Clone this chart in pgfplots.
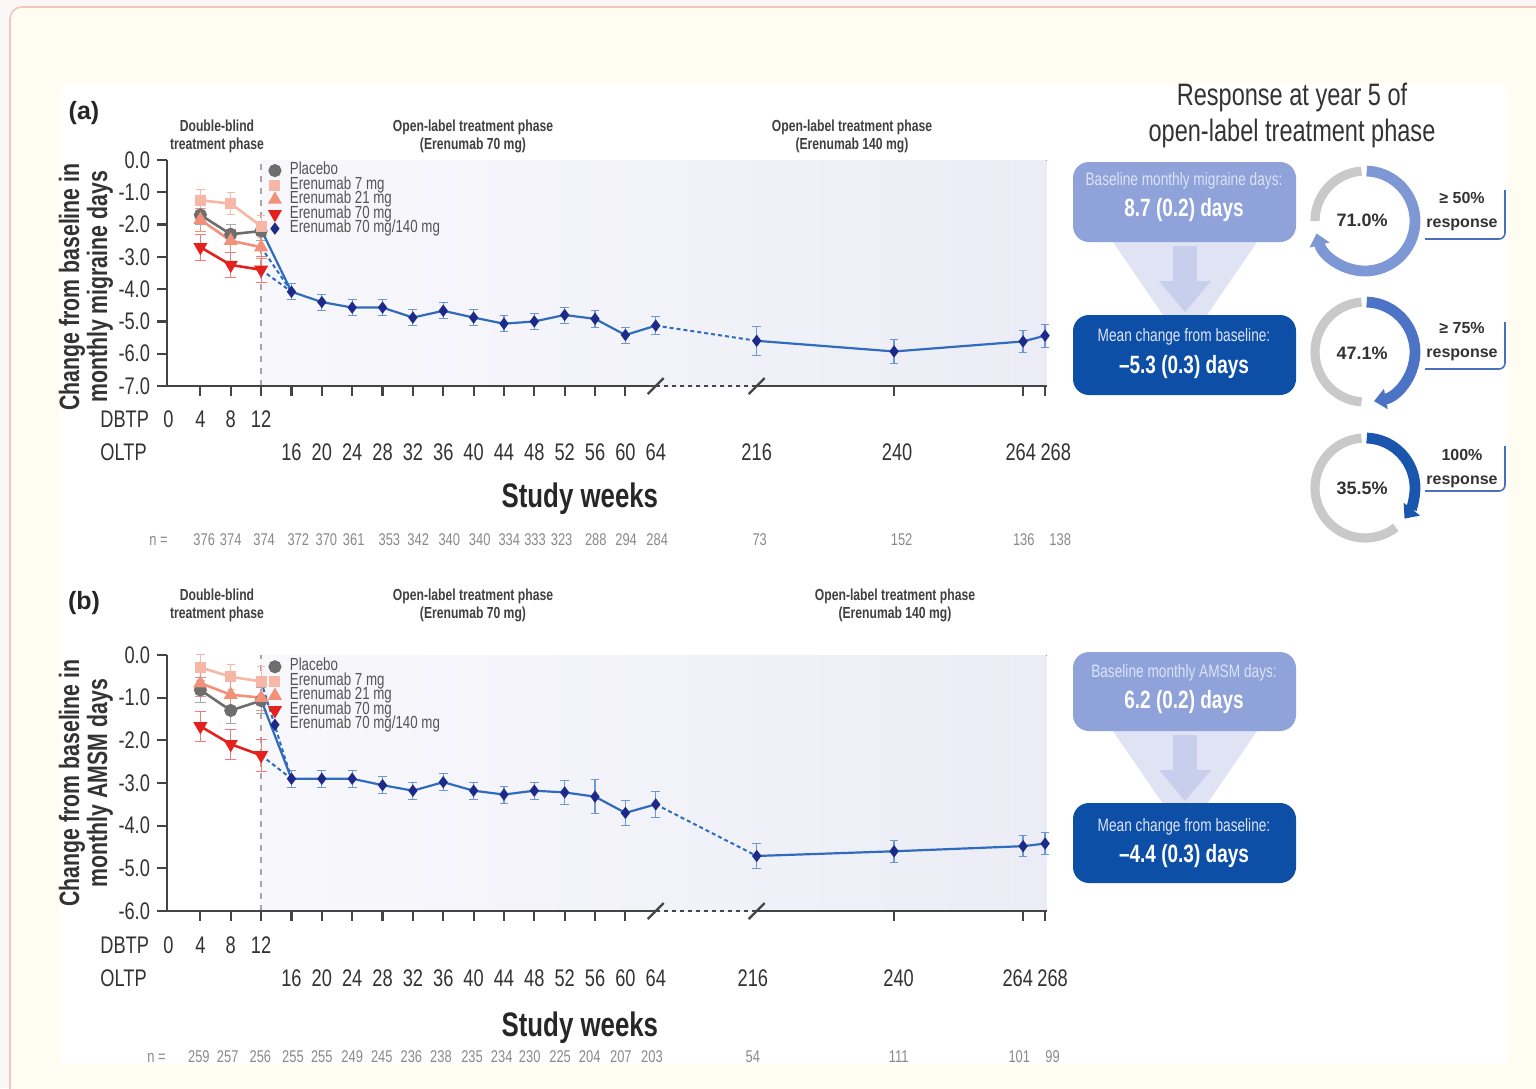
\documentclass[border=0pt]{standalone}
\usepackage{pgfplots}
\pgfplotsset{compat=1.18}
\usepackage{fontspec}
\setmainfont{Liberation Sans}[FakeStretch=0.76]
\newfontfamily\wf{Liberation Sans}
\usetikzlibrary{arrows.meta}

\definecolor{cPla}{HTML}{6E6E6E}
\definecolor{c7}{HTML}{F6B7A6}
\definecolor{c21}{HTML}{F2907A}
\definecolor{c70}{HTML}{E4211C}
\definecolor{cBl}{HTML}{2F6CBD}
\definecolor{cNv}{HTML}{1E2A8A}
\definecolor{txt}{HTML}{333333}
\definecolor{axc}{HTML}{444444}
\definecolor{shL}{HTML}{F8F8FC}
\definecolor{shR}{HTML}{ECECF6}
\definecolor{boxL}{HTML}{8FA3DA}
\definecolor{boxD}{HTML}{0D4EA6}
\definecolor{fun}{HTML}{DFE3F4}
\definecolor{arr}{HTML}{C8CFEC}
\definecolor{ring}{HTML}{C9C9C9}
\definecolor{d1}{HTML}{7E98D6}
\definecolor{d2}{HTML}{4C73C6}
\definecolor{d3}{HTML}{1A56AE}
\definecolor{brk}{HTML}{4B6FBF}
\definecolor{cream}{HTML}{FFFDF2}
\definecolor{outer}{HTML}{FBF7F7}
\definecolor{bord}{HTML}{F0C8BE}
\definecolor{nclr}{HTML}{8A8A8A}
\definecolor{leg}{HTML}{555555}
\definecolor{btxt}{HTML}{DCE3F6}

\newcommand\fT{\fontsize{12}{12}\selectfont}
\newcommand\fN{\fontsize{8.5}{8.5}\selectfont}
\newcommand\fSW{\bfseries\fontsize{17}{17}\selectfont}
\newcommand\fYL{\bfseries\fontsize{14}{14}\selectfont}
\newcommand\fPH{\bfseries\fontsize{8}{9}\selectfont}
\newcommand\fLeg{\fontsize{8.75}{8.75}\selectfont}

% tick-row label: x, text, yshift, ymin
\newcommand\xl[4]{\node[anchor=base,font=\fT,text=txt,inner sep=0pt] at ([yshift=#3]axis cs:#1,#4) {#2};}
\newcommand\nl[4]{\node[anchor=base,font=\fN,text=nclr,inner sep=0pt] at ([yshift=#3]axis cs:#1,#4) {#2};}

\pgfplotsset{
  panel/.style={
    scale only axis, width=439.8pt, anchor=south west,
    xmin=-0.4, xmax=115.5, enlargelimits=false,
    axis lines=left, axis line style={-, draw=axc, line width=1.2pt},
    x axis line style={draw=none},
    clip=false, tick align=outside,
    xtick={4,8,...,60,95.4,112.4,115.3}, xticklabels={,,}, xticklabel style={opacity=0},
    major tick length=5pt,
    tick style={draw=axc, line width=1.1pt},
    yticklabel style={font=\fT, text=txt},
    legend style={draw=none, fill=none, font=\fLeg, text=leg, row sep=0pt,
      inner sep=0pt, nodes={inner sep=0pt, text height=5.6pt, text depth=1.65pt, anchor=west}},
    legend cell align=left,
    legend image code/.code={\draw[##1] plot[only marks] coordinates {(0.12cm,0cm)}; \path (0cm,0cm) (0.36cm,0cm);},
  },
  pla/.style={color=cPla, line width=1.3pt, mark=*, mark size=2.6pt, mark options={solid, fill=cPla}},
  s7/.style={color=c7, line width=1.3pt, mark=square*, mark size=2.1pt, mark options={solid, fill=c7}},
  s21/.style={color=c21, line width=1.3pt, mark=triangle*, mark size=2.8pt, mark options={solid, fill=c21}},
  s70/.style={color=c70, line width=1.3pt, mark=triangle*, mark size=2.8pt, mark options={solid, fill=c70, rotate=180}},
  sbl/.style={color=cBl, line width=1.1pt, mark=diamond*, mark size=2.2pt, mark options={solid, fill=cNv, draw=cNv}},
  eb/.style={error bars/.cd, y dir=both, y explicit, error bar style={line width=0.6pt, #1}},
}

\begin{document}
\begin{tikzpicture}
\path[use as bounding box] (0,0) rectangle (768pt,-544pt);
% ---------- background ----------
\begin{scope}[x=0.5pt,y=-0.5pt]
  \fill[outer] (0,0) rectangle (1536,1088);
  \filldraw[fill=cream, draw=bord, line width=0.8pt, rounded corners=6pt] (10,7) rectangle (1600,1140);
  \fill[white] (60,84) rectangle (1508,1064);
\end{scope}

% ================= PANEL A =================
\begin{axis}[panel, at={(83.5pt,-193pt)}, height=113pt, ymin=-7, ymax=0,
  ytick={-7,-6,...,0}, yticklabels={-7.0,-6.0,-5.0,-4.0,-3.0,-2.0,-1.0,0.0},
  legend style={at={(0.113,0.987)}, anchor=north west}]
\fill[left color=shL, right color=shR] (axis cs:12,-7) rectangle (axis cs:115.5,0);
\draw[gray!70, dashed, line width=0.7pt] (axis cs:12,-7) -- (axis cs:12,0);
\draw[axc, line width=1.2pt] (axis cs:-0.4,-7) -- (axis cs:64,-7);
\draw[axc, line width=1.2pt, dash pattern=on 2pt off 2pt] (axis cs:64,-7) -- (axis cs:77.3,-7);
\draw[axc, line width=1.2pt] (axis cs:77.3,-7) -- (axis cs:115.5,-7);
\draw[axc, line width=1.1pt] ([xshift=-4pt,yshift=-4pt]axis cs:64,-7) -- ([xshift=4pt,yshift=4pt]axis cs:64,-7);
\draw[axc, line width=1.1pt] ([xshift=-4pt,yshift=-4pt]axis cs:77.3,-7) -- ([xshift=4pt,yshift=4pt]axis cs:77.3,-7);

\addplot[pla, eb={cPla!60}] coordinates {(4,-1.7) +- (0,0.3) (8,-2.3) +- (0,0.3) (12,-2.2) +- (0,0.3)};
\addlegendentry{Placebo}
\addplot[s7, eb={c7}] coordinates {(4,-1.25) +- (0,0.35) (8,-1.35) +- (0,0.35) (12,-2.05) +- (0,0.35)};
\addlegendentry{Erenumab 7 mg}
\addplot[s21, eb={c21}] coordinates {(4,-1.85) +- (0,0.35) (8,-2.5) +- (0,0.35) (12,-2.7) +- (0,0.35)};
\addlegendentry{Erenumab 21 mg}
\addplot[s70, eb={c70!60}] coordinates {(4,-2.7) +- (0,0.4) (8,-3.25) +- (0,0.4) (12,-3.4) +- (0,0.4)};
\addlegendentry{Erenumab 70 mg}
\addplot[sbl, eb={cBl!70}] coordinates {
 (16,-4.08) +- (0,0.25) (20,-4.4) +- (0,0.25) (24,-4.57) +- (0,0.25) (28,-4.57) +- (0,0.25)
 (32,-4.88) +- (0,0.25) (36,-4.67) +- (0,0.25) (40,-4.88) +- (0,0.25) (44,-5.07) +- (0,0.25)
 (48,-5.0) +- (0,0.25) (52,-4.8) +- (0,0.25) (56,-4.92) +- (0,0.25) (60,-5.42) +- (0,0.25)
 (64,-5.13) +- (0,0.28)};
\addlegendentry{Erenumab 70 mg/140 mg}
\addplot[forget plot, color=cBl, line width=1.1pt] coordinates {(12,-2.15) (16,-4.08)};
\addplot[forget plot, color=cBl, line width=1pt, dash pattern=on 2pt off 1.5pt] coordinates {(12,-2.7) (16,-4.08)};
\addplot[forget plot, color=cBl, line width=1pt, dash pattern=on 2pt off 1.5pt] coordinates {(12,-3.4) (16,-4.08)};
\addplot[forget plot, color=cBl, line width=1pt, dash pattern=on 2pt off 1.5pt] coordinates {(64,-5.13) (77.3,-5.6)};
\addplot[forget plot, sbl, eb={cBl!70}] coordinates {
 (77.3,-5.6) +- (0,0.46) (95.4,-5.93) +- (0,0.36) (112.4,-5.62) +- (0,0.35) (115.3,-5.44) +- (0,0.35)};

\xl{-0.2}{0}{-20.5pt}{-7}\xl{4}{4}{-20.5pt}{-7}\xl{8}{8}{-20.5pt}{-7}\xl{12}{12}{-20.5pt}{-7}
\xl{16}{16}{-37pt}{-7}\xl{20}{20}{-37pt}{-7}\xl{24}{24}{-37pt}{-7}\xl{28}{28}{-37pt}{-7}
\xl{32}{32}{-37pt}{-7}\xl{36}{36}{-37pt}{-7}\xl{40}{40}{-37pt}{-7}\xl{44}{44}{-37pt}{-7}
\xl{48}{48}{-37pt}{-7}\xl{52}{52}{-37pt}{-7}\xl{56}{56}{-37pt}{-7}\xl{60}{60}{-37pt}{-7}
\xl{64}{64}{-37pt}{-7}\xl{77.3}{216}{-37pt}{-7}\xl{95.8}{240}{-37pt}{-7}
\xl{112.1}{264}{-37pt}{-7}\xl{116.7}{268}{-37pt}{-7}
\node[anchor=base, font=\fSW, text=black!85] at ([yshift=-60.5pt]axis cs:54,-7) {Study weeks};
\nl{4.5}{376}{-79.5pt}{-7}\nl{8}{374}{-79.5pt}{-7}\nl{12.4}{374}{-79.5pt}{-7}
\nl{16.9}{372}{-79.5pt}{-7}\nl{20.6}{370}{-79.5pt}{-7}\nl{24.2}{361}{-79.5pt}{-7}
\nl{28.9}{353}{-79.5pt}{-7}\nl{32.7}{342}{-79.5pt}{-7}\nl{36.8}{340}{-79.5pt}{-7}
\nl{40.8}{340}{-79.5pt}{-7}\nl{44.7}{334}{-79.5pt}{-7}\nl{48.1}{333}{-79.5pt}{-7}
\nl{51.6}{323}{-79.5pt}{-7}\nl{56.1}{288}{-79.5pt}{-7}\nl{60.1}{294}{-79.5pt}{-7}
\nl{64.2}{284}{-79.5pt}{-7}\nl{77.7}{73}{-79.5pt}{-7}\nl{96.4}{152}{-79.5pt}{-7}
\nl{112.5}{136}{-79.5pt}{-7}\nl{117.3}{138}{-79.5pt}{-7}
\end{axis}

% ================= PANEL B =================
\begin{axis}[panel, at={(83.5pt,-455.5pt)}, height=128pt, ymin=-6, ymax=0,
  ytick={-6,-5,...,0}, yticklabels={-6.0,-5.0,-4.0,-3.0,-2.0,-1.0,0.0},
  legend style={at={(0.113,0.984)}, anchor=north west}]
\fill[left color=shL, right color=shR] (axis cs:12,-6) rectangle (axis cs:115.5,0);
\draw[gray!70, dashed, line width=0.7pt] (axis cs:12,-6) -- (axis cs:12,0);
\draw[axc, line width=1.2pt] (axis cs:-0.4,-6) -- (axis cs:64,-6);
\draw[axc, line width=1.2pt, dash pattern=on 2pt off 2pt] (axis cs:64,-6) -- (axis cs:77.3,-6);
\draw[axc, line width=1.2pt] (axis cs:77.3,-6) -- (axis cs:115.5,-6);
\draw[axc, line width=1.1pt] ([xshift=-4pt,yshift=-4pt]axis cs:64,-6) -- ([xshift=4pt,yshift=4pt]axis cs:64,-6);
\draw[axc, line width=1.1pt] ([xshift=-4pt,yshift=-4pt]axis cs:77.3,-6) -- ([xshift=4pt,yshift=4pt]axis cs:77.3,-6);

\addplot[pla, eb={cPla!60}] coordinates {(4,-0.82) +- (0,0.3) (8,-1.3) +- (0,0.3) (12,-1.07) +- (0,0.3)};
\addlegendentry{Placebo}
\addplot[s7, eb={c7}] coordinates {(4,-0.29) +- (0,0.3) (8,-0.51) +- (0,0.3) (12,-0.62) +- (0,0.35)};
\addlegendentry{Erenumab 7 mg}
\addplot[s21, eb={c21}] coordinates {(4,-0.66) +- (0,0.3) (8,-0.93) +- (0,0.3) (12,-1.0) +- (0,0.3)};
\addlegendentry{Erenumab 21 mg}
\addplot[s70, eb={c70!60}] coordinates {(4,-1.67) +- (0,0.35) (8,-2.09) +- (0,0.35) (12,-2.35) +- (0,0.38)};
\addlegendentry{Erenumab 70 mg}
\addplot[sbl, eb={cBl!70}] coordinates {
 (16,-2.9) +- (0,0.2) (20,-2.9) +- (0,0.2) (24,-2.9) +- (0,0.2) (28,-3.05) +- (0,0.2)
 (32,-3.18) +- (0,0.2) (36,-2.98) +- (0,0.2) (40,-3.18) +- (0,0.2) (44,-3.27) +- (0,0.2)
 (48,-3.18) +- (0,0.2) (52,-3.22) +- (0,0.29) (56,-3.32) +- (0,0.4) (60,-3.7) +- (0,0.3)
 (64,-3.5) +- (0,0.3)};
\addlegendentry{Erenumab 70 mg/140 mg}
\addplot[forget plot, color=cBl, line width=1.1pt] coordinates {(12,-1.05) (16,-2.9)};
\addplot[forget plot, color=cBl, line width=1pt, dash pattern=on 2pt off 1.5pt] coordinates {(12,-0.62) (16,-2.9)};
\addplot[forget plot, color=cBl, line width=1pt, dash pattern=on 2pt off 1.5pt] coordinates {(12,-2.35) (16,-2.9)};
\addplot[forget plot, color=cBl, line width=1pt, dash pattern=on 2pt off 1.5pt] coordinates {(64,-3.5) (77.3,-4.71)};
\addplot[forget plot, sbl, eb={cBl!70}] coordinates {
 (77.3,-4.71) +- (0,0.29) (95.4,-4.6) +- (0,0.25) (112.4,-4.48) +- (0,0.25) (115.3,-4.42) +- (0,0.26)};

\xl{-0.2}{0}{-21pt}{-6}\xl{4}{4}{-21pt}{-6}\xl{8}{8}{-21pt}{-6}\xl{12}{12}{-21pt}{-6}
\xl{16}{16}{-37.5pt}{-6}\xl{20}{20}{-37.5pt}{-6}\xl{24}{24}{-37.5pt}{-6}\xl{28}{28}{-37.5pt}{-6}
\xl{32}{32}{-37.5pt}{-6}\xl{36}{36}{-37.5pt}{-6}\xl{40}{40}{-37.5pt}{-6}\xl{44}{44}{-37.5pt}{-6}
\xl{48}{48}{-37.5pt}{-6}\xl{52}{52}{-37.5pt}{-6}\xl{56}{56}{-37.5pt}{-6}\xl{60}{60}{-37.5pt}{-6}
\xl{64}{64}{-37.5pt}{-6}\xl{76.8}{216}{-37.5pt}{-6}\xl{96}{240}{-37.5pt}{-6}
\xl{111.7}{264}{-37.5pt}{-6}\xl{116.3}{268}{-37.5pt}{-6}
\node[anchor=base, font=\fSW, text=black!85] at ([yshift=-62.5pt]axis cs:54,-6) {Study weeks};
\nl{3.8}{259}{-75.5pt}{-6}\nl{7.6}{257}{-75.5pt}{-6}\nl{11.9}{256}{-75.5pt}{-6}
\nl{16.2}{255}{-75.5pt}{-6}\nl{20}{255}{-75.5pt}{-6}\nl{24}{249}{-75.5pt}{-6}
\nl{27.9}{245}{-75.5pt}{-6}\nl{31.8}{236}{-75.5pt}{-6}\nl{35.7}{238}{-75.5pt}{-6}
\nl{39.8}{235}{-75.5pt}{-6}\nl{43.7}{234}{-75.5pt}{-6}\nl{47.4}{230}{-75.5pt}{-6}
\nl{51.4}{225}{-75.5pt}{-6}\nl{55.3}{204}{-75.5pt}{-6}\nl{59.4}{207}{-75.5pt}{-6}
\nl{63.5}{203}{-75.5pt}{-6}\nl{76.8}{54}{-75.5pt}{-6}\nl{96}{111}{-75.5pt}{-6}
\nl{111.9}{101}{-75.5pt}{-6}\nl{116.3}{99}{-75.5pt}{-6}
\end{axis}

% ================= overlay text & infographic =================
\begin{scope}[x=0.5pt,y=-0.5pt]
  % panel letters
  \node[font=\wf\bfseries\fontsize{12.5}{12.5}\selectfont, text=black!85] at (84,113) {(a)};
  \node[font=\wf\bfseries\fontsize{12.5}{12.5}\selectfont, text=black!85] at (84,603) {(b)};
  % y labels
  \node[rotate=90, align=center, font=\fYL, text=txt] at (86,287) {Change from baseline in\\monthly migraine days};
  \node[rotate=90, align=center, font=\fYL, text=txt] at (86,783) {Change from baseline in\\monthly AMSM days};
  % phase headers
  \foreach \yy/\xx in {136/852, 605/895}{
    \node[align=center, font=\fPH, text=black!75] at (217,\yy) {Double-blind\\treatment phase};
    \node[align=center, font=\fPH, text=black!75] at (473,\yy) {Open-label treatment phase\\(Erenumab 70 mg)};
    \node[align=center, font=\fPH, text=black!75] at (\xx,\yy) {Open-label treatment phase\\(Erenumab 140 mg)};
  }
  % row titles
  \node[anchor=base west, font=\fT, text=txt, inner sep=0pt] at (100,427) {DBTP};
  \node[anchor=base west, font=\fT, text=txt, inner sep=0pt] at (100,460) {OLTP};
  \node[anchor=base east, font=\fN, text=nclr, inner sep=0pt] at (168,545) {n =};
  \node[anchor=base west, font=\fT, text=txt, inner sep=0pt] at (100,953) {DBTP};
  \node[anchor=base west, font=\fT, text=txt, inner sep=0pt] at (100,986) {OLTP};
  \node[anchor=base east, font=\fN, text=nclr, inner sep=0pt] at (166,1062) {n =};

  % title
  \node[align=center, font=\fontsize{15.5}{18}\selectfont, text=txt] at (1292,115) {Response at year 5 of\\open-label treatment phase};

  % funnels and arrows
  \foreach \t in {0,489}{
    \fill[fun] (1113,242+\t) -- (1257,242+\t) -- (1185,347+\t) -- cycle;
    \fill[arr] (1173,246+\t) rectangle (1197,282+\t);
    \fill[arr] (1159,281+\t) -- (1211,281+\t) -- (1185,312+\t) -- cycle;
  }
  % boxes panel a
  \fill[boxL, rounded corners=8pt] (1073,162) rectangle (1296,242);
  \node[font=\fontsize{9}{9}\selectfont, text=btxt] at (1184,181) {Baseline monthly migraine days:};
  \node[font=\bfseries\fontsize{12.5}{12.5}\selectfont, text=white] at (1184,210) {8.7 (0.2) days};
  \fill[boxD, rounded corners=8pt] (1073,315) rectangle (1296,395);
  \node[font=\fontsize{9}{9}\selectfont, text=btxt] at (1184,337) {Mean change from baseline:};
  \node[font=\bfseries\fontsize{12.5}{12.5}\selectfont, text=white] at (1184,367) {–5.3 (0.3) days};
  % boxes panel b
  \fill[boxL, rounded corners=8pt] (1073,652) rectangle (1296,731);
  \node[font=\fontsize{9}{9}\selectfont, text=btxt] at (1184,673) {Baseline monthly AMSM days:};
  \node[font=\bfseries\fontsize{12.5}{12.5}\selectfont, text=white] at (1184,702) {6.2 (0.2) days};
  \fill[boxD, rounded corners=8pt] (1073,803) rectangle (1296,883);
  \node[font=\fontsize{9}{9}\selectfont, text=btxt] at (1184,827) {Mean change from baseline:};
  \node[font=\bfseries\fontsize{12.5}{12.5}\selectfont, text=white] at (1184,856) {–4.4 (0.3) days};

  % brackets
  \draw[brk, line width=0.8pt, rounded corners=3pt] (1505,190) -- (1505,239) -- (1425,239);
  \draw[brk, line width=0.8pt, rounded corners=3pt] (1505,322) -- (1505,369) -- (1425,369);
  \draw[brk, line width=0.8pt, rounded corners=3pt] (1505,446) -- (1505,491) -- (1425,491);
  % response labels
  \node[align=center, font=\wf\bfseries\fontsize{8}{12}\selectfont, text=txt] at (1462,212) {≥ 50\%\\response};
  \node[align=center, font=\wf\bfseries\fontsize{8}{12}\selectfont, text=txt] at (1462,342) {≥ 75\%\\response};
  \node[align=center, font=\wf\bfseries\fontsize{8}{12}\selectfont, text=txt] at (1462,469) {100\%\\response};
  % donut centre labels
  \node[font=\wf\bfseries\fontsize{9}{9}\selectfont, text=txt] at (1362,220) {71.0\%};
  \node[font=\wf\bfseries\fontsize{9}{9}\selectfont, text=txt] at (1362,353) {47.1\%};
  \node[font=\wf\bfseries\fontsize{9}{9}\selectfont, text=txt] at (1362,488) {35.5\%};
\end{scope}

% donuts (standard orientation)
\begin{scope}[shift={(682.5pt,-110.5pt)}]
  \draw[ring, line width=4.6pt] (-180:25pt) arc[start angle=-180, end angle=-266, radius=25pt];
  \draw[d1, line width=5.4pt, -{Triangle[length=6pt,width=10pt]}] (88:25pt) arc[start angle=88, end angle=-165.6, radius=25pt];
\end{scope}
\begin{scope}[shift={(682.5pt,-176pt)}]
  \draw[ring, line width=4.6pt] (-94:25pt) arc[start angle=-94, end angle=-266, radius=25pt];
  \draw[d2, line width=5.4pt, -{Triangle[length=6pt,width=10pt]}] (88:25pt) arc[start angle=88, end angle=-79.6, radius=25pt];
\end{scope}
\begin{scope}[shift={(682.5pt,-244pt)}]
  \draw[ring, line width=4.6pt] (-52:25pt) arc[start angle=-52, end angle=-266, radius=25pt];
  \draw[d3, line width=5.4pt, -{Triangle[length=6pt,width=10pt]}] (88:25pt) arc[start angle=88, end angle=-37.8, radius=25pt];
\end{scope}
\end{tikzpicture}
\end{document}
